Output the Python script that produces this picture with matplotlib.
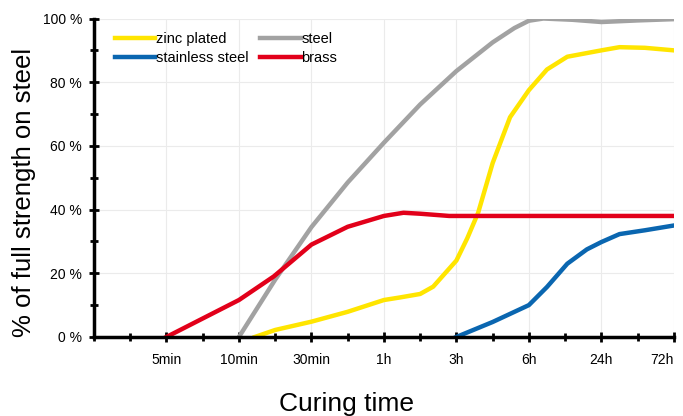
import matplotlib.pyplot as plt

plt.rcParams['font.family'] = ['Liberation Sans', 'DejaVu Sans']

# x positions are category slots: 0 = origin, 1 = 5min ... 8 = 72h
tick_labels = ["5min", "10min", "30min", "1h", "3h", "6h", "24h", "72h"]

zinc_x = [2.22, 2.5, 3.0, 3.5, 4.0, 4.22, 4.5, 4.68, 5.0, 5.15, 5.3, 5.5, 5.74, 6.0, 6.25, 6.53, 7.0, 7.25, 7.6, 8.0]
zinc_y = [0, 2.2, 4.8, 7.9, 11.6, 12.4, 13.5, 15.8, 24, 31, 39, 54.6, 69, 77.5, 84, 88, 90, 91, 90.8, 90]

steel_x = [2.0, 2.5, 3.0, 3.5, 4.0, 4.5, 5.0, 5.5, 5.8, 6.0, 6.2, 6.6, 7.0, 7.5, 8.0]
steel_y = [0, 18, 34.5, 48.5, 61, 73, 83.5, 92.5, 97, 99.3, 100, 99.6, 98.9, 99.4, 99.8]

stainless_x = [5.0, 5.5, 6.0, 6.25, 6.53, 6.8, 7.0, 7.25, 7.6, 8.0]
stainless_y = [0, 4.7, 10, 15.7, 23, 27.5, 29.8, 32.3, 33.5, 35]

brass_x = [1.0, 1.5, 2.0, 2.48, 3.0, 3.5, 4.0, 4.27, 4.5, 4.9, 5.5, 6.0, 7.0, 8.0]
brass_y = [0, 5.8, 11.6, 19, 29, 34.6, 38, 39, 38.7, 38, 38, 38, 38, 38]

fig = plt.figure(figsize=(6.83, 4.16), dpi=100)
ax = fig.add_axes([0.1376, 0.19, 0.849, 0.7655])

l_zinc, = ax.plot(zinc_x, zinc_y, color="#FFE500", lw=3.2, label="zinc plated")
l_steel, = ax.plot(steel_x, steel_y, color="#A2A2A2", lw=3.2, label="steel")
l_stain, = ax.plot(stainless_x, stainless_y, color="#0A66B0", lw=3.2, label="stainless steel")
l_brass, = ax.plot(brass_x, brass_y, color="#E2001A", lw=3.2, label="brass")

ax.set_xlim(0, 8)
ax.set_ylim(0, 100)
ax.set_xticks(range(1, 9))
ax.set_xticklabels(tick_labels)
ax.set_xticks([i * 0.5 for i in range(17)], minor=True)
ax.set_yticks(range(0, 101, 20))
ax.set_yticklabels([f"{v} %" for v in range(0, 101, 20)])
ax.set_yticks(range(0, 101, 10), minor=True)

ax.grid(True, color="#EBEBEB", lw=0.8)
ax.set_axisbelow(True)
for s in ["top", "right"]:
    ax.spines[s].set_visible(False)
for s in ["left", "bottom"]:
    ax.spines[s].set_linewidth(2.5)
ax.tick_params(which="both", direction="inout", width=2, length=7, labelsize=10, pad=5)
ax.tick_params(which="minor", length=6)
ax.tick_params(axis="x", pad=8)
# last label sits at the right edge, nudge it inward a little
ax.get_xticklabels()[-1].set_horizontalalignment("right")
ax.get_xticklabels()[-1].set_x(8.14)

fig.text(0.035, 0.538, "% of full strength on steel", fontsize=18.5,
         rotation=90, ha="center", va="center")
fig.text(0.508, 0.03, "Curing time", fontsize=19, ha="center", va="center")

# column-wise fill so rows read: zinc / steel, stainless / brass
ax.legend([l_zinc, l_stain, l_steel, l_brass],
          ["zinc plated", "stainless steel", "steel", "brass"],
          ncol=2, loc="upper left", bbox_to_anchor=(0.028, 0.972), frameon=False,
          fontsize=10.5, handlelength=2.8, handletextpad=0.05, columnspacing=0.75,
          labelspacing=0.35, borderaxespad=0, borderpad=0.3)

fig.savefig("out.png", dpi=100)
